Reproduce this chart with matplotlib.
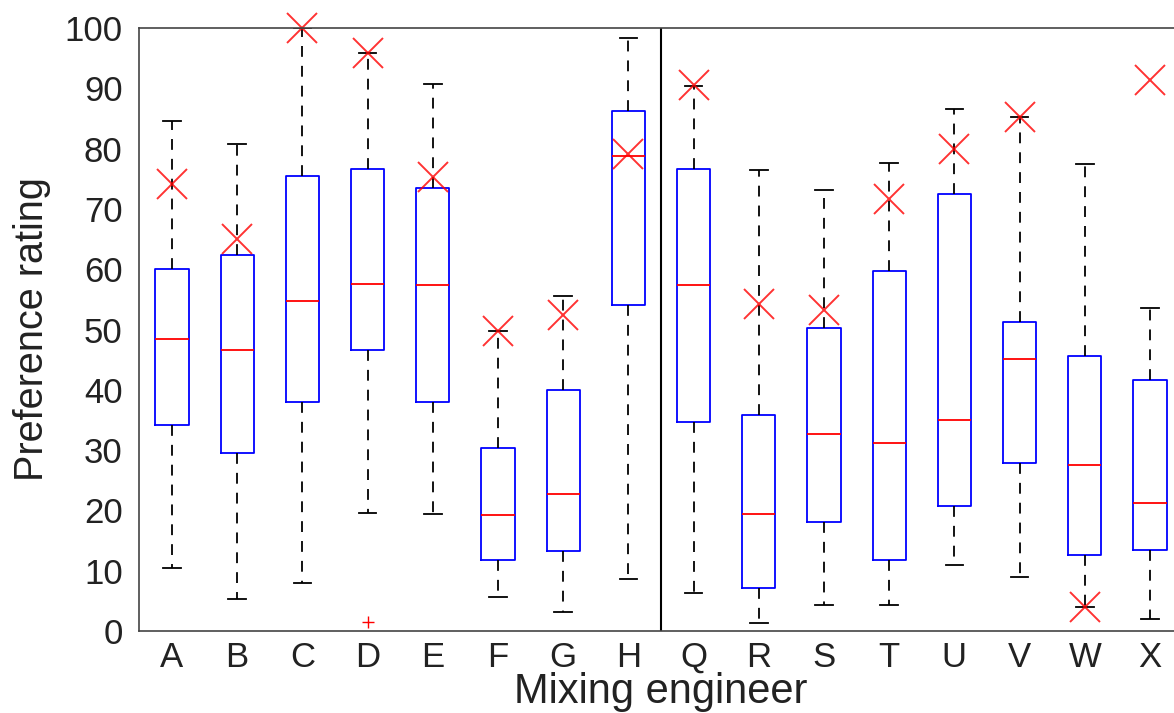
import matplotlib.pyplot as plt
import numpy as np

plt.rcParams['font.family'] = ['Liberation Sans', 'DejaVu Sans']

# engineers and box statistics
engineers = ['A', 'B', 'C', 'D', 'E', 'F', 'G', 'H',
             'Q', 'R', 'S', 'T', 'U', 'V', 'W', 'X']
whislo = [10.4, 5.3, 8.0, 19.6, 19.4, 5.6, 3.2, 8.7,
          6.3, 1.3, 4.3, 4.3, 10.9, 9.0, 4.0, 2.0]
q1 = [34.2, 29.6, 37.9, 46.6, 38.0, 11.7, 13.3, 54.1,
      34.7, 7.2, 18.1, 11.8, 20.8, 27.9, 12.6, 13.5]
med = [48.5, 46.6, 54.8, 57.5, 57.3, 19.3, 22.8, 78.7,
       57.4, 19.4, 32.6, 31.1, 35.0, 45.1, 27.5, 21.3]
q3 = [60.0, 62.3, 75.5, 76.6, 73.5, 30.3, 40.0, 86.3,
      76.6, 35.9, 50.2, 59.7, 72.5, 51.2, 45.6, 41.7]
whishi = [84.6, 80.8, 100.0, 95.8, 90.7, 49.8, 55.6, 98.4,
          90.4, 76.4, 73.2, 77.6, 86.6, 85.2, 77.4, 53.6]
outliers = {'D': [1.5]}
# red crosses (one rating per engineer)
cross = [74.2, 65.0, 100.0, 95.8, 75.3, 49.8, 52.4, 79.1,
         90.6, 54.3, 53.3, 71.6, 79.9, 85.3, 4.0, 91.3]

stats = []
for i, name in enumerate(engineers):
    stats.append(dict(med=med[i], q1=q1[i], q3=q3[i],
                      whislo=whislo[i], whishi=whishi[i],
                      fliers=outliers.get(name, [])))

fig = plt.figure(figsize=(11.74, 7.13), dpi=100)
ax = fig.add_axes([0.1187, 0.115, 0.8886, 0.8457])

pos = np.arange(1, len(engineers) + 1)
ax.bxp(stats, positions=pos, widths=0.51, capwidths=0.27,
       boxprops=dict(color='blue', linewidth=1.3),
       medianprops=dict(color='red', linewidth=1.3),
       whiskerprops=dict(color='black', linewidth=1.3, linestyle=(0, (6, 5))),
       capprops=dict(color='black', linewidth=1.3),
       flierprops=dict(marker='+', markeredgecolor='red', markersize=8,
                       markeredgewidth=1.0))

ax.plot(pos, cross, linestyle='none', marker='x', markersize=21,
        markeredgecolor='red', markeredgewidth=1.4, alpha=0.8, clip_on=False)

ax.axvline(8.5, color='black', linewidth=1.5)

ax.set_xlim(0.5, 16.5)
ax.set_ylim(0, 100)
ax.set_yticks(np.arange(0, 101, 10))
ax.set_xticks(pos)
ax.set_xticklabels(engineers)
ax.tick_params(axis='both', length=0, labelsize=25, colors='#222222')
ax.tick_params(axis='y', pad=12)
ax.tick_params(axis='x', pad=7)
for s in ax.spines.values():
    s.set_color('#444444')
    s.set_linewidth(1.2)

ax.set_xlabel('Mixing engineer', fontsize=30, labelpad=-1, color='#222222')
ax.set_ylabel('Preference rating', fontsize=28.5, labelpad=10, color='#222222')

plt.savefig('out.png', dpi=100)
